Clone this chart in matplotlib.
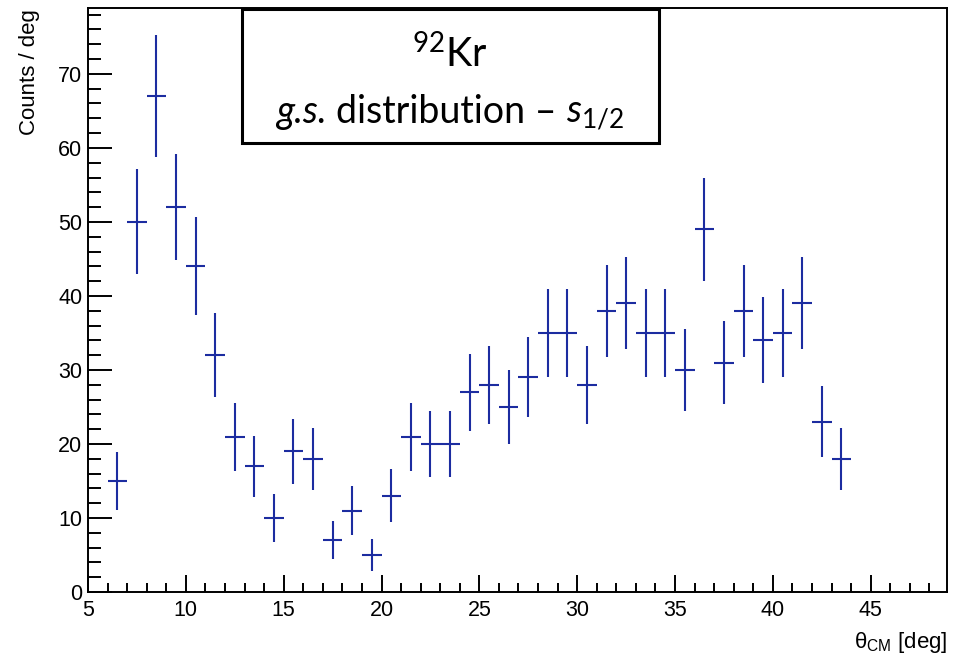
import numpy as np
import matplotlib
matplotlib.use("Agg")
import matplotlib.pyplot as plt
from matplotlib.patches import Rectangle
from matplotlib.ticker import MultipleLocator

# histogram: 1 deg bins starting at 6 deg
bin_low = np.arange(6, 44)
counts = [15, 50, 67, 52, 44, 32, 21, 17, 10, 19, 18, 7, 11, 5, 13, 21, 20, 20, 27,
          28, 25, 29, 35, 35, 28, 38, 39, 35, 35, 30, 49, 31, 38, 34, 35, 39, 23, 18]
errors = [3.9, 7.1, 8.2, 7.2, 6.6, 5.7, 4.6, 4.1, 3.2, 4.4, 4.2, 2.6, 3.3, 2.2, 3.6,
          4.6, 4.5, 4.5, 5.2, 5.3, 5.0, 5.4, 5.9, 5.9, 5.3, 6.2, 6.2, 5.9, 5.9, 5.5,
          7.0, 5.6, 6.2, 5.8, 5.9, 6.2, 4.8, 4.2]

plt.rcParams['font.family'] = ['Liberation Sans', 'DejaVu Sans']
plt.rcParams['mathtext.fontset'] = 'custom'
plt.rcParams['mathtext.rm'] = 'Lato'
plt.rcParams['mathtext.it'] = 'Lato:italic'
plt.rcParams['mathtext.bf'] = 'Lato:bold'

W, H = 960, 658
fig = plt.figure(figsize=(W / 100, H / 100), dpi=100)
ax = fig.add_axes([88 / W, 1 - 592 / H, 859 / W, 584 / H])

x = bin_low + 0.5
ax.errorbar(x, counts, xerr=0.5, yerr=errors, fmt='none',
            ecolor='#1c2ca0', elinewidth=1.5, capsize=0)

ax.set_xlim(5, 48.9)
ax.set_ylim(0, 78.9)

ax.xaxis.set_major_locator(MultipleLocator(5))
ax.xaxis.set_minor_locator(MultipleLocator(1))
ax.yaxis.set_major_locator(MultipleLocator(10))
ax.yaxis.set_minor_locator(MultipleLocator(2))
ax.tick_params(which='both', direction='in', top=False, right=False,
               width=1.4, labelsize=15.5, color='black')
ax.tick_params(axis='x', which='major', length=12, pad=6)
ax.tick_params(axis='x', which='minor', length=6.5)
ax.tick_params(axis='y', which='major', length=17, pad=4)
ax.tick_params(axis='y', which='minor', length=9.4)
for s in ax.spines.values():
    s.set_linewidth(1.4)

fig.text(947 / W, 3 / H, r"θ$_{\mathregular{CM}}$ [deg]", ha='right', va='bottom',
         fontsize=16)
fig.text(30 / W, 1 - 9 / H, "Counts / deg", rotation=90, ha='center', va='top',
         fontsize=16)

# label box
box = Rectangle((242 / W, 1 - 143 / H), 417 / W, 134 / H, transform=fig.transFigure,
                facecolor='white', edgecolor='black', linewidth=2.2, zorder=5)
fig.patches.append(box)
cx = 450
fig.text(cx / W, 1 - 67 / H, r"$^{92}$Kr", ha='center', va='baseline', fontsize=28.5,
         family='Lato', zorder=6)

# second line built from pieces so the italic dots keep their normal spacing
fs2 = 27
pieces = [("g.s.", 'italic'), ("distribution –", 'normal'), (r"$s_{1/2}$", 'normal')]
gap = 0.26 * fs2 * 100 / 72
renderer = fig.canvas.get_renderer()
texts = []
for s, st in pieces:
    t = fig.text(0, 1 - 123 / H, s, ha='left', va='baseline', fontsize=fs2,
                 family='Lato', style=st, zorder=6)
    texts.append(t)
widths = [t.get_window_extent(renderer).width for t in texts]
total = sum(widths) + gap * (len(widths) - 1)
xpos = cx - total / 2
for t, w in zip(texts, widths):
    t.set_x(xpos / W)
    xpos += w + gap

fig.savefig("out.png", dpi=100)
